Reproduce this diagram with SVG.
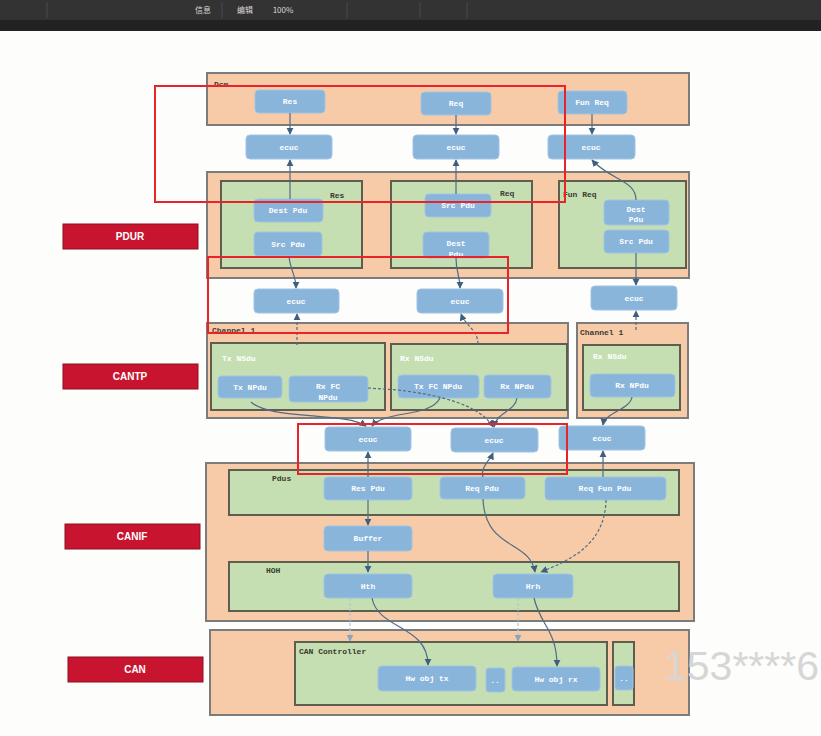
<svg xmlns="http://www.w3.org/2000/svg" width="821" height="736" viewBox="0 0 821 736">
<defs>
<style>
.grp{fill:#f8cba8;stroke:#7c7c7c;stroke-width:2}
.grn{fill:#c5dfb2;stroke:#5d5d50;stroke-width:2}
.nd{fill:#8ab5db;stroke:#9fc4e3;stroke-width:1}
.nt{font-family:"Liberation Mono","DejaVu Sans Mono",monospace;font-size:8px;fill:#ffffff;font-weight:bold;text-anchor:middle}
.gl{font-family:"Liberation Mono","DejaVu Sans Mono",monospace;font-size:8px;fill:#3a3a30;font-weight:bold}
.gw{font-family:"Liberation Mono","DejaVu Sans Mono",monospace;font-size:8px;fill:#ffffff;font-weight:bold}
.lay{fill:#c8142f;stroke:#8a1020;stroke-width:1}
.lt{font-family:"Liberation Sans",Arial,sans-serif;font-size:10px;font-weight:bold;fill:#ffffff;text-anchor:middle}
.c{fill:none;stroke:#4f6b85;stroke-width:1.2}
.cd{fill:none;stroke:#4f6b85;stroke-width:1.2;stroke-dasharray:3 2}
.cl{fill:none;stroke:#b0c4d4;stroke-width:1.2;stroke-dasharray:3 2}
.ann{fill:none;stroke:#e8242a;stroke-width:2}
.tb{font-family:"Noto Sans CJK SC","Liberation Sans",sans-serif;font-size:8px;fill:#d8d8d8}
</style>
<marker id="ah" viewBox="0 0 10 10" refX="9" refY="5" markerWidth="6" markerHeight="6" orient="auto-start-reverse">
<path d="M0,0 L10,5 L0,10 z" fill="#3f5f7f"/>
</marker>
<marker id="ahl" viewBox="0 0 10 10" refX="9" refY="5" markerWidth="6" markerHeight="6" orient="auto-start-reverse">
<path d="M0,0 L10,5 L0,10 z" fill="#8aa6be"/>
</marker>
</defs>
<rect x="0" y="0" width="821" height="736" fill="#fdfdfb"/>
<g id="toolbar">
<rect x="0" y="0" width="821" height="20" fill="#333333"/>
<rect x="0" y="20" width="821" height="11" fill="#222222"/>
<line x1="47" y1="2" x2="47" y2="18" stroke="#4a4a4a"/>
<line x1="222" y1="2" x2="222" y2="18" stroke="#4a4a4a"/>
<line x1="347" y1="2" x2="347" y2="18" stroke="#4a4a4a"/>
<line x1="420" y1="2" x2="420" y2="18" stroke="#4a4a4a"/>
<line x1="467" y1="2" x2="467" y2="18" stroke="#4a4a4a"/>
<text x="203" y="13" class="tb" text-anchor="middle">信息</text>
<text x="245" y="13" class="tb" text-anchor="middle">编辑</text>
<text x="283" y="13" class="tb" text-anchor="middle">100%</text>
</g>

<g id="layer-labels">
<g id="lbl-pdur"><rect class="lay" x="63" y="224" width="135" height="25"/><text class="lt" x="130" y="240">PDUR</text></g>
<g id="lbl-cantp"><rect class="lay" x="63" y="364" width="135" height="25"/><text class="lt" x="130" y="380">CANTP</text></g>
<g id="lbl-canif"><rect class="lay" x="65" y="524" width="135" height="25"/><text class="lt" x="132" y="540">CANIF</text></g>
<g id="lbl-can"><rect class="lay" x="68" y="657" width="135" height="25"/><text class="lt" x="135" y="673">CAN</text></g>
</g>

<g id="dcm">
<rect class="grp" x="207" y="73" width="482" height="52"/>
<text class="gl" x="214" y="87">Dcm</text>
<g id="dcm-res"><rect class="nd" x="255" y="90" width="70" height="23" rx="4"/><text class="nt" x="290" y="104">Res</text></g>
<g id="dcm-req"><rect class="nd" x="421" y="92" width="70" height="23" rx="4"/><text class="nt" x="456" y="106">Req</text></g>
<g id="dcm-funreq"><rect class="nd" x="558" y="91" width="69" height="23" rx="4"/><text class="nt" x="592" y="105">Fun Req</text></g>
</g>

<g id="ecuc-row1">
<g id="ecuc1a"><rect class="nd" x="246" y="135" width="86" height="24" rx="4"/><text class="nt" x="289" y="150">ecuc</text></g>
<g id="ecuc1b"><rect class="nd" x="413" y="135" width="86" height="24" rx="4"/><text class="nt" x="456" y="150">ecuc</text></g>
<g id="ecuc1c"><rect class="nd" x="548" y="135" width="87" height="24" rx="4"/><text class="nt" x="591" y="150">ecuc</text></g>
</g>

<g id="pdur">
<rect class="grp" x="207" y="172" width="482" height="106"/>
<g id="pdur-res">
<rect class="grn" x="221" y="181" width="141" height="87"/>
<text class="gl" x="330" y="198">Res</text>
<g id="pdur-res-dest"><rect class="nd" x="254" y="199" width="69" height="23" rx="4"/><text class="nt" x="288" y="213">Dest Pdu</text></g>
<g id="pdur-res-src"><rect class="nd" x="254" y="232" width="68" height="24" rx="4"/><text class="nt" x="288" y="247">Src Pdu</text></g>
</g>
<g id="pdur-req">
<rect class="grn" x="391" y="181" width="141" height="87"/>
<text class="gl" x="500" y="196">Req</text>
<g id="pdur-req-src"><rect class="nd" x="425" y="194" width="66" height="23" rx="4"/><text class="nt" x="458" y="208">Src Pdu</text></g>
<g id="pdur-req-dest"><rect class="nd" x="423" y="232" width="66" height="26" rx="4"/><text class="nt" x="456" y="246">Dest</text><text class="nt" x="456" y="257">Pdu</text></g>
</g>
<g id="pdur-fun">
<rect class="grn" x="559" y="181" width="127" height="87"/>
<text class="gl" x="563" y="197">Fun Req</text>
<g id="pdur-fun-dest"><rect class="nd" x="604" y="200" width="65" height="25" rx="4"/><text class="nt" x="636" y="212">Dest</text><text class="nt" x="636" y="222">Pdu</text></g>
<g id="pdur-fun-src"><rect class="nd" x="604" y="230" width="65" height="23" rx="4"/><text class="nt" x="636" y="244">Src Pdu</text></g>
</g>
</g>

<g id="ecuc-row2">
<g id="ecuc2a"><rect class="nd" x="254" y="289" width="85" height="24" rx="4"/><text class="nt" x="296" y="304">ecuc</text></g>
<g id="ecuc2b"><rect class="nd" x="417" y="289" width="86" height="24" rx="4"/><text class="nt" x="460" y="304">ecuc</text></g>
<g id="ecuc2c"><rect class="nd" x="591" y="286" width="86" height="24" rx="4"/><text class="nt" x="634" y="301">ecuc</text></g>
</g>

<g id="cantp">
<g id="cantp-ch1">
<rect class="grp" x="207" y="323" width="361" height="95"/>
<text class="gl" x="212" y="333">Channel 1</text>
<g id="cantp-txnsdu">
<rect class="grn" x="211" y="343" width="174" height="67"/>
<text class="gw" x="222" y="361">Tx NSdu</text>
<g id="cantp-txnpdu"><rect class="nd" x="218" y="376" width="64" height="22" rx="4"/><text class="nt" x="250" y="390">Tx NPdu</text></g>
<g id="cantp-rxfc"><rect class="nd" x="289" y="376" width="79" height="26" rx="4"/><text class="nt" x="328" y="389">Rx FC</text><text class="nt" x="328" y="400">NPdu</text></g>
</g>
<g id="cantp-rxnsdu">
<rect class="grn" x="391" y="344" width="176" height="66"/>
<text class="gw" x="400" y="361">Rx NSdu</text>
<g id="cantp-txfc"><rect class="nd" x="398" y="375" width="81" height="23" rx="4"/><text class="nt" x="438" y="389">Tx FC NPdu</text></g>
<g id="cantp-rxnpdu"><rect class="nd" x="484" y="375" width="67" height="23" rx="4"/><text class="nt" x="517" y="389">Rx NPdu</text></g>
</g>
</g>
<g id="cantp-ch2">
<rect class="grp" x="577" y="323" width="111" height="95"/>
<text class="gl" x="580" y="335">Channel 1</text>
<rect class="grn" x="583" y="345" width="97" height="65"/>
<text class="gw" x="593" y="359">Rx NSdu</text>
<g id="cantp-ch2-rxnpdu"><rect class="nd" x="590" y="374" width="85" height="23" rx="4"/><text class="nt" x="632" y="388">Rx NPdu</text></g>
</g>
</g>

<g id="ecuc-row3">
<g id="ecuc3a"><rect class="nd" x="325" y="427" width="86" height="24" rx="4"/><text class="nt" x="368" y="442">ecuc</text></g>
<g id="ecuc3b"><rect class="nd" x="451" y="428" width="87" height="24" rx="4"/><text class="nt" x="494" y="443">ecuc</text></g>
<g id="ecuc3c"><rect class="nd" x="559" y="426" width="86" height="24" rx="4"/><text class="nt" x="602" y="441">ecuc</text></g>
</g>

<g id="canif">
<rect class="grp" x="206" y="463" width="488" height="158"/>
<g id="canif-pdus">
<rect class="grn" x="229" y="470" width="450" height="45"/>
<text class="gl" x="272" y="481">Pdus</text>
<g id="canif-respdu"><rect class="nd" x="324" y="477" width="88" height="23" rx="4"/><text class="nt" x="368" y="491">Res Pdu</text></g>
<g id="canif-reqpdu"><rect class="nd" x="440" y="477" width="85" height="22" rx="4"/><text class="nt" x="482" y="491">Req Pdu</text></g>
<g id="canif-reqfun"><rect class="nd" x="545" y="477" width="121" height="23" rx="4"/><text class="nt" x="605" y="491">Req Fun Pdu</text></g>
</g>
<g id="canif-buffer"><rect class="nd" x="324" y="526" width="88" height="25" rx="4"/><text class="nt" x="368" y="541">Buffer</text></g>
<g id="canif-hoh">
<rect class="grn" x="229" y="562" width="450" height="49"/>
<text class="gl" x="266" y="573">HOH</text>
<g id="canif-hth"><rect class="nd" x="324" y="574" width="88" height="24" rx="4"/><text class="nt" x="368" y="589">Hth</text></g>
<g id="canif-hrh"><rect class="nd" x="493" y="574" width="80" height="24" rx="4"/><text class="nt" x="533" y="589">Hrh</text></g>
</g>
</g>

<g id="can">
<rect class="grp" x="210" y="630" width="479" height="85"/>
<g id="can-ctrl">
<rect class="grn" x="295" y="642" width="312" height="63"/>
<text class="gl" x="299" y="654">CAN Controller</text>
<g id="can-hwtx"><rect class="nd" x="378" y="666" width="98" height="25" rx="4"/><text class="nt" x="427" y="681">Hw obj tx</text></g>
<g id="can-dots"><rect class="nd" x="486" y="668" width="19" height="24" rx="3"/><text class="nt" x="495" y="683">..</text></g>
<g id="can-hwrx"><rect class="nd" x="512" y="667" width="88" height="24" rx="4"/><text class="nt" x="556" y="682">Hw obj rx</text></g>
</g>
<g id="can-ctrl2">
<rect class="grn" x="613" y="642" width="21" height="63"/>
<g id="can-dots2"><rect class="nd" x="615" y="666" width="18" height="24" rx="3"/><text class="nt" x="624" y="681">..</text></g>
</g>
</g>

<g id="connectors">
<path class="c" d="M290,113 L290,134" marker-end="url(#ah)"/>
<path class="c" d="M456,115 L456,134" marker-end="url(#ah)"/>
<path class="c" d="M592,114 L592,134" marker-end="url(#ah)"/>
<path class="c" d="M290,199 L290,160" marker-end="url(#ah)"/>
<path class="c" d="M456,194 L456,160" marker-end="url(#ah)"/>
<path class="c" d="M636,200 C636,180 610,180 592,160" marker-end="url(#ah)"/>
<path class="c" d="M289,256 C290,270 296,275 296,288" marker-end="url(#ah)"/>
<path class="c" d="M456,258 C456,272 460,276 460,288" marker-end="url(#ah)"/>
<path class="c" d="M636,253 L636,285" marker-end="url(#ah)"/>
<path class="cd" d="M297,345 L297,314" marker-end="url(#ah)"/>
<path class="cd" d="M478,344 C478,330 465,325 461,314" marker-end="url(#ah)"/>
<path class="cd" d="M636,330 L636,311" marker-end="url(#ah)"/>
<path class="c" d="M632,397 C630,410 605,412 603,425" marker-end="url(#ah)"/>
<path class="c" d="M251,402 C270,420 345,412 366,426" marker-end="url(#ah)"/>
<path class="c" d="M440,398 C430,418 385,410 372,426" marker-end="url(#ah)"/>
<path class="cd" d="M368,388 L398,390"/>
<path class="cd" d="M398,390 C440,395 480,405 493,427" marker-end="url(#ah)"/>
<path class="c" d="M517,398 C515,412 496,412 494,427" marker-end="url(#ah)"/>
<path class="c" d="M368,477 L368,452" marker-end="url(#ah)"/>
<path class="c" d="M483,477 C480,468 490,460 493,453" marker-end="url(#ah)"/>
<path class="c" d="M603,477 L603,451" marker-end="url(#ah)"/>
<path class="c" d="M368,500 L368,525" marker-end="url(#ah)"/>
<path class="c" d="M368,551 L368,572" marker-end="url(#ah)"/>
<path class="c" d="M483,499 C485,550 530,540 535,572" marker-end="url(#ah)"/>
<path class="cd" d="M606,500 C605,545 570,560 541,572" marker-end="url(#ah)"/>
<path class="cl" d="M350,598 L350,641" marker-end="url(#ahl)"/>
<path class="c" d="M372,598 C378,630 428,625 428,665" marker-end="url(#ah)"/>
<path class="cl" d="M518,598 L518,641" marker-end="url(#ahl)"/>
<path class="c" d="M534,598 C540,625 557,630 557,666" marker-end="url(#ah)"/>
</g>

<g id="annotations">
<rect class="ann" x="155" y="86" width="410" height="116"/>
<rect class="ann" x="208" y="257" width="300" height="76"/>
<rect class="ann" x="298" y="424" width="269" height="50"/>
</g>

<text x="664" y="680" font-family="Liberation Sans,Arial,sans-serif" font-size="41" fill="#d6d6d6">153****6</text>
</svg>
